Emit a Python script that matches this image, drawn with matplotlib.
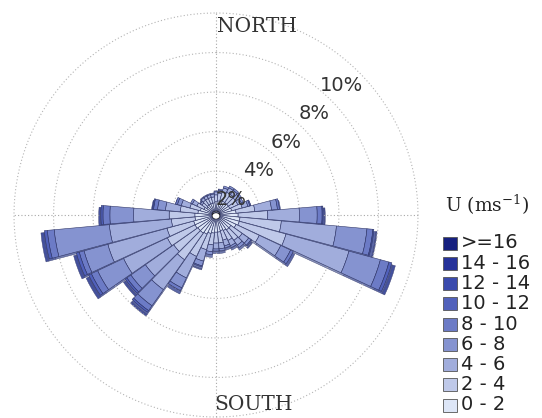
import numpy as np
import matplotlib.pyplot as plt
from matplotlib.colors import to_rgb
from matplotlib.patches import Rectangle

plt.rcParams['mathtext.fontset'] = 'dejavuserif'

# direction sectors (deg, clockwise from north) and speed classes
dirs = np.arange(0, 360, 10)
speed_bins = ['0 - 2', '2 - 4', '4 - 6', '6 - 8', '8 - 10',
              '10 - 12', '12 - 14', '14 - 16', '>=16']
bin_colors = ['#dde6f7', '#bfc9e9', '#a1addc', '#8593d0', '#6c7bc6',
              '#5161bb', '#3a4aad', '#26329a', '#16207f']

# frequency (%) per direction for every speed class
u0_2 = [0.45, 0.5, 0.55, 0.55, 0.55, 0.55, 0.55, 0.6, 0.8, 0.9, 1.0, 1.0,
        0.9, 0.7, 0.7, 0.65, 0.6, 0.65, 0.65, 0.7, 0.75, 0.85, 0.9, 0.9,
        0.95, 0.95, 0.85, 0.85, 0.7, 0.6, 0.45, 0.35, 0.4, 0.4, 0.4, 0.4]
u2_4 = [0.35, 0.4, 0.45, 0.5, 0.5, 0.45, 0.45, 0.55, 0.95, 1.5, 2.1, 2.45,
        1.3, 0.7, 0.65, 0.55, 0.5, 0.55, 0.55, 0.6, 0.85, 1.25, 1.65, 1.5,
        1.55, 1.4, 1.2, 1.3, 0.9, 0.55, 0.4, 0.3, 0.3, 0.3, 0.3, 0.3]
u4_6 = [0.15, 0.15, 0.2, 0.25, 0.25, 0.25, 0.2, 0.3, 0.85, 1.6, 2.8, 3.3,
        1.2, 0.4, 0.3, 0.3, 0.3, 0.3, 0.3, 0.35, 0.6, 1.2, 1.85, 1.75,
        2.45, 3.1, 3.15, 1.8, 0.75, 0.45, 0.25, 0.1, 0.15, 0.15, 0.15, 0.15]
u6_8 = [0.05, 0.05, 0.1, 0.1, 0.1, 0.1, 0.1, 0.1, 0.3, 0.9, 1.55, 1.65,
        0.55, 0.15, 0.15, 0.1, 0.1, 0.1, 0.1, 0.15, 0.25, 0.55, 1.0, 0.9,
        1.45, 1.25, 2.8, 1.2, 0.4, 0.2, 0.1, 0.05, 0.05, 0.05, 0.05, 0.05]
u8_10 = [0, 0, 0, 0, 0, 0, 0, 0.05, 0.1, 0.25, 0.3, 0.45,
         0.15, 0.05, 0, 0, 0, 0, 0, 0, 0.05, 0.15, 0.3, 0.25,
         0.35, 0.25, 0.35, 0.35, 0.2, 0.1, 0, 0, 0, 0, 0, 0]
u10_12 = [0, 0, 0, 0, 0, 0, 0, 0, 0, 0.05, 0.05, 0.15,
          0, 0, 0, 0, 0, 0, 0, 0, 0, 0, 0.1, 0.1,
          0.15, 0.15, 0.15, 0.1, 0.05, 0, 0, 0, 0, 0, 0, 0]
u12_14 = [0, 0, 0, 0, 0, 0, 0, 0, 0, 0, 0, 0,
          0, 0, 0, 0, 0, 0, 0, 0, 0, 0, 0, 0,
          0, 0, 0, 0, 0, 0, 0, 0, 0, 0, 0, 0]
u14_16 = [0, 0, 0, 0, 0, 0, 0, 0, 0, 0, 0, 0,
          0, 0, 0, 0, 0, 0, 0, 0, 0, 0, 0, 0,
          0, 0, 0, 0, 0, 0, 0, 0, 0, 0, 0, 0]
u16 = [0, 0, 0, 0, 0, 0, 0, 0, 0, 0, 0, 0,
       0, 0, 0, 0, 0, 0, 0, 0, 0, 0, 0, 0,
       0, 0, 0, 0, 0, 0, 0, 0, 0, 0, 0, 0]
freqs = [u0_2, u2_4, u4_6, u6_8, u8_10, u10_12, u12_14, u14_16, u16]

rings = [2, 4, 6, 8, 10]

W, H = 542, 418
cx, cy, R = 216, 215, 202          # rose centre and outer radius, px
fig = plt.figure(figsize=(W / 100, H / 100), dpi=100)


def rose_axes(scale=1.0, drop=0.0):
    r = R * scale
    a = fig.add_axes([(cx - r) / W, (H - cy - drop - r) / H, 2 * r / W, 2 * r / H],
                     projection='polar')
    a.set_theta_zero_location('N')
    a.set_theta_direction(-1)
    a.patch.set_visible(False)
    a.grid(False)
    a.set_xticks([])
    a.set_yticks([])
    a.spines['polar'].set_visible(False)
    return a


# side faces of the bars sit on their own axes, a bit larger and lower
ax_side = rose_axes(scale=1.02, drop=2.0)
ax = rose_axes()

theta = np.deg2rad(dirs)
width = np.deg2rad(9.6)

base = np.zeros(len(dirs))
for vals, col in zip(freqs, bin_colors):
    vals = np.array(vals, dtype=float)
    m = vals > 0
    if not m.any():
        continue
    dark = tuple(c * 0.84 for c in to_rgb(col))
    ax_side.bar(theta[m], vals[m], width=width, bottom=base[m], color=dark,
                edgecolor='#3a3f6e', linewidth=0.3, zorder=3)
    ax.bar(theta[m], vals[m], width=width, bottom=base[m], color=col,
           edgecolor='#2f3566', linewidth=0.4, zorder=4)
    base = base + vals

for a in (ax_side, ax):
    a.set_ylim(0, 10)
    a.set_rorigin(-0.22)

tt = np.linspace(0, 2 * np.pi, 500)
for r in rings:
    ax.plot(tt, np.full_like(tt, r), ls=(0, (1, 2)), color='#b4b4b4',
            lw=0.8, zorder=1, clip_on=False)
for th in [0, np.pi / 2, np.pi, 3 * np.pi / 2]:
    ax.plot([th, th], [0, 10], ls=(0, (1, 2)), color='#a8a8a8', lw=0.8,
            zorder=1, clip_on=False)

for r in rings:
    ax.text(np.deg2rad(44), r - 1.1, f'{r}%', ha='center', va='center',
            fontsize=14, color='#333333', zorder=6)

serif = dict(family='DejaVu Serif', fontsize=14.5, color='#333333', zorder=6)
ax.annotate('NORTH', xy=(0, 10), xytext=(1, -3), textcoords='offset points',
            ha='left', va='top', **serif)
ax.annotate('SOUTH', xy=(np.pi, 10), xytext=(-1, 2), textcoords='offset points',
            ha='left', va='bottom', **serif)
ax.annotate('WEST', xy=(3 * np.pi / 2, 10), xytext=(0, -3), textcoords='offset points',
            ha='left', va='top', **serif)
ax.annotate('EAST', xy=(np.pi / 2, 10), xytext=(2, -3), textcoords='offset points',
            ha='right', va='top', **serif)

# legend, strongest class on top
fig.text(445 / W, 1 - 205 / H, 'U (ms$^{-1}$)', ha='left', va='center',
         family='DejaVu Serif', fontsize=13.5, color='#222222')
for i, (lab, col) in enumerate(zip(speed_bins[::-1], bin_colors[::-1])):
    yc = 243 + i * 20.25
    fig.patches.append(Rectangle((443 / W, 1 - (yc + 6.5) / H), 14 / W, 13 / H,
                                 transform=fig.transFigure, facecolor=col,
                                 edgecolor='#555555', linewidth=0.6))
    fig.text(461 / W, 1 - yc / H, lab, ha='left', va='center',
             fontsize=14, color='#222222')

fig.savefig('out.png', dpi=100)
